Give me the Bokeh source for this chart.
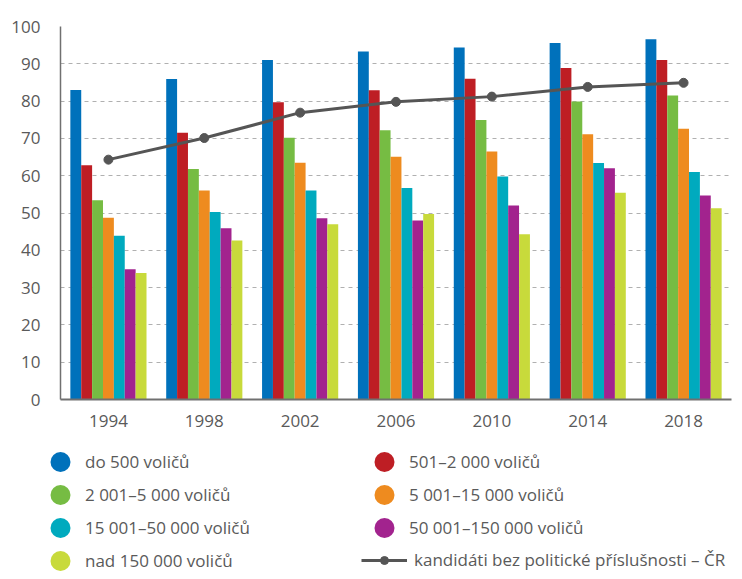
from bokeh.plotting import figure
from bokeh.layouts import column, row
from bokeh.models import (ColumnDataSource, FactorRange, Legend, LegendItem,
                          Range1d, SingleIntervalTicker)
from bokeh.transform import dodge
from bokeh.embed import file_html
from bokeh.resources import INLINE

# ---- data ----
years = ["1994", "1998", "2002", "2006", "2010", "2014", "2018"]
do_500 = [83.0, 85.9, 91.0, 93.3, 94.4, 95.6, 96.6]
s_501_2000 = [62.8, 71.5, 79.7, 82.9, 86.0, 88.9, 91.0]
s_2001_5000 = [53.4, 61.8, 70.2, 72.2, 74.9, 79.9, 81.5]
s_5001_15000 = [48.7, 56.0, 63.5, 65.1, 66.5, 71.1, 72.6]
s_15001_50000 = [43.9, 50.3, 56.0, 56.7, 59.8, 63.4, 61.0]
s_50001_150000 = [34.9, 45.9, 48.6, 48.0, 52.0, 62.0, 54.7]
nad_150000 = [33.9, 42.6, 47.0, 49.7, 44.3, 55.4, 51.3]
kandidati_cr = [64.3, 70.1, 76.9, 79.8, 81.2, 83.8, 84.9]

series_names = ["do 500 voličů", "501–2 000 voličů", "2 001–5 000 voličů",
                "5 001–15 000 voličů", "15 001–50 000 voličů",
                "50 001–150 000 voličů", "nad 150 000 voličů"]
line_name = "kandidáti bez politické příslušnosti – ČR"
series_values = [do_500, s_501_2000, s_2001_5000, s_5001_15000,
                 s_15001_50000, s_50001_150000, nad_150000]
colors = ["#0071bb", "#be1e24", "#76bc43", "#ee8b1f", "#00aabe", "#a2238e", "#c8da3b"]
line_color = "#555555"
text_color = "#5a5a5a"
FONT = "Open Sans"

data = {"year": years, "line": kandidati_cr}
keys = []
for i, vals in enumerate(series_values):
    k = f"s{i}"
    keys.append(k)
    data[k] = vals
source = ColumnDataSource(data)

p = figure(x_range=FactorRange(*years), y_range=Range1d(0, 100),
           width=734, height=440, output_backend="svg", toolbar_location=None,
           min_border_left=60, min_border_right=3, min_border_top=26,
           min_border_bottom=41)

bw = 0.1135
for i, k in enumerate(keys):
    p.vbar(x=dodge("year", (i - 3) * bw, range=p.x_range), top=k, width=bw,
           source=source, fill_color=colors[i], line_color=None)

p.line(x="year", y="line", source=source, line_color=line_color, line_width=3)
p.scatter(x="year", y="line", source=source, size=9, fill_color=line_color,
          line_color=line_color)

# axes
p.yaxis.ticker = SingleIntervalTicker(interval=10)
for ax in (p.xaxis, p.yaxis):
    ax.major_tick_line_color = None
    ax.minor_tick_line_color = None
    ax.major_tick_out = 0
    ax.major_label_text_font = FONT
    ax.major_label_text_font_size = "17px"
    ax.major_label_text_color = text_color
    ax.axis_line_color = "#707070"
p.yaxis.axis_line_width = 1.5
p.xaxis.axis_line_width = 2
p.yaxis.major_label_standoff = 16
p.xaxis.major_label_standoff = 15

p.xgrid.grid_line_color = None
p.ygrid.grid_line_color = "#b0b0b0"
p.ygrid.grid_line_dash = "4 4"
p.ygrid.grid_line_width = 1
p.outline_line_color = None

# ---- legend figure ----
lf = figure(width=734, height=131, x_range=Range1d(0, 1), y_range=Range1d(0, 1),
            x_axis_type=None, y_axis_type=None, min_border=0,
            output_backend="svg", toolbar_location=None)
lf.outline_line_color = None

# proxy renderers: one point placed outside the visible range
px, py = [-10], [-10]
proxies = []
for i, name in enumerate(series_names):
    r = lf.scatter(x=px, y=py, size=22, fill_color=colors[i], line_color=None)
    proxies.append(LegendItem(label=name, renderers=[r]))
lr = lf.line(x=[-10, -9], y=[-10, -10], line_color=line_color, line_width=3)
lp = lf.scatter(x=px, y=py, size=8, fill_color=line_color, line_color=line_color)
line_item = LegendItem(label=line_name, renderers=[lr, lp])

common = dict(padding=0, margin=0, spacing=0,
              border_line_color=None, background_fill_alpha=0,
              label_text_font=FONT, label_text_font_size="17px",
              label_text_color=text_color)

# one horizontal legend per row (two columns)
legend_rows = [[0, 1], [2, 3], [4, 5], [6]]
row_offsets = [82, 49, 16, -17]
for idx, off in zip(legend_rows, row_offsets):
    lg = Legend(items=[proxies[i] for i in idx], location=(35, off),
                orientation="horizontal",
                glyph_width=50, glyph_height=55, label_height=55,
                label_width=274, label_standoff=0, **common)
    lf.add_layout(lg, "center")

legend2 = Legend(items=[line_item], location=(361, 0), orientation="vertical",
                 glyph_width=46, glyph_height=20, label_height=20,
                 label_standoff=7, **common)
lf.add_layout(legend2, "center")

open("out.html", "w").write(file_html(column(p, row(lf), spacing=0), INLINE))
